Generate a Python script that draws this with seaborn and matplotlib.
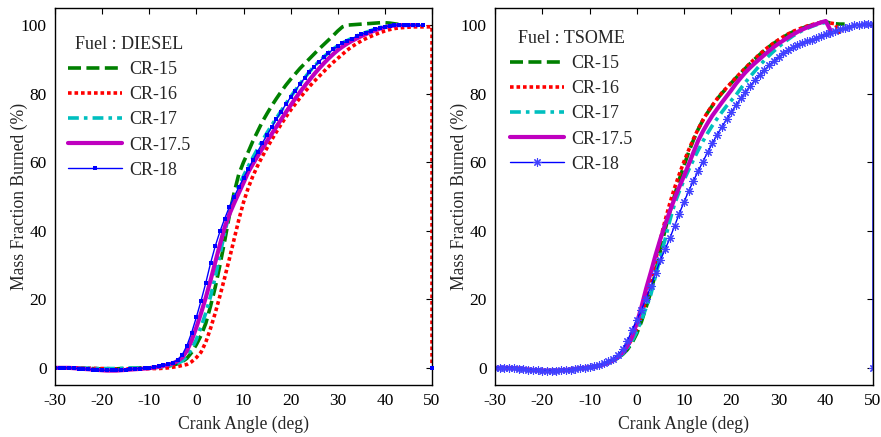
import numpy as np
import pandas as pd
import matplotlib
matplotlib.use("Agg")
import matplotlib.pyplot as plt
import seaborn as sns

nan = np.nan

# Crank angle grid (deg); the last 50 repeats for the end-of-record drop
crank_angle = list(range(-30, 51)) + [50]
series_names = ["CR-15", "CR-16", "CR-17", "CR-17.5", "CR-18"]

# ---------------- DIESEL (mass fraction burned, %) ----------------
diesel_cr15 = ([0, 0, 0, 0, 0, -0.1, -0.1, -0.2, -0.2, -0.3, -0.3, -0.3, -0.3, -0.3, -0.2, -0.2, -0.1, -0.1, 0, 0, 0]
               + [0.1, 0.2, 0.3, 0.5, 0.8, 1.2, 1.8, 2.8, 4.5, 6.8]
               + [9.5, 13.0, 18.0, 23.5, 30.0, 37.0, 44.5, 51.0, 56.5, 60.0]
               + [63.0, 66.2, 69.0, 71.8, 74.2, 76.5, 78.6, 80.6, 82.5, 84.2]
               + [85.8, 87.4, 88.8, 90.2, 91.6, 93.0, 94.3, 95.6, 96.9, 98.3]
               + [99.5, 100.0, 100.1, 100.2, 100.3, 100.4, 100.5, 100.6, 100.7, 100.7]
               + [100.6, 100.4, 100.2, 100.1, 100.0, nan, nan, nan, nan, nan]
               + [nan])
diesel_cr16 = ([0, 0, 0, 0, 0, 0, 0, -0.1, -0.1, -0.2, -0.2, -0.2, -0.3, -0.3, -0.3, -0.3, -0.3, -0.3, -0.3, -0.3, -0.2]
               + [-0.2, -0.2, -0.1, 0.0, 0.2, 0.4, 0.7, 1.0, 1.8, 3.0]
               + [4.6, 7.5, 11.5, 16.0, 21.0, 26.3, 31.8, 37.5, 43.2, 48.3]
               + [52.5, 56.0, 59.0, 61.7, 64.2, 66.6, 68.9, 71.1, 73.2, 75.2]
               + [77.0, 78.8, 80.5, 82.1, 83.6, 85.0, 86.4, 87.8, 89.1, 90.3]
               + [91.5, 92.7, 93.7, 94.6, 95.4, 96.1, 96.7, 97.3, 97.8, 98.3]
               + [98.7, 99.0, 99.2, 99.3, 99.4, 99.5, 99.5, 99.5, 99.5, 99.5]
               + [0])
diesel_cr17 = ([0, 0, 0, 0, 0, -0.1, -0.1, -0.1, -0.2, -0.2, -0.2, -0.2, -0.2, -0.2, -0.2, -0.1, -0.1, -0.1, 0, 0, 0]
               + [0.1, 0.2, 0.4, 0.6, 0.9, 1.3, 2.0, 3.3, 5.5, 8.3]
               + [12.0, 16.0, 20.8, 26.5, 33.0, 39.5, 45.0, 49.5, 53.0, 56.0]
               + [58.8, 61.4, 63.9, 66.3, 68.6, 70.8, 72.9, 75.0, 77.1, 79.1]
               + [81.0, 82.9, 84.7, 86.4, 88.0, 89.4, 90.7, 91.9, 93.0, 94.0]
               + [94.8, 95.5, 96.2, 96.8, 97.4, 97.9, 98.4, 98.9, 99.3, 99.6]
               + [99.8, 100, 100, 100, 100, 100, 100, nan, nan, nan]
               + [nan])
diesel_cr175 = ([0, 0, 0, 0, -0.1, -0.2, -0.3, -0.4, -0.5, -0.6, -0.7, -0.8, -0.8, -0.8, -0.7, -0.6, -0.5, -0.4, -0.3, -0.2, -0.1]
                + [0.1, 0.3, 0.6, 0.9, 1.3, 2.0, 3.0, 5.0, 8.0, 11.8]
                + [16.0, 20.5, 25.5, 30.8, 36.0, 41.0, 44.8, 48.0, 51.0, 54.0]
                + [57.1, 59.5, 61.8, 64.0, 66.2, 68.3, 70.4, 72.5, 74.6, 76.6]
                + [78.6, 80.5, 82.3, 84.0, 85.7, 87.3, 88.8, 90.2, 91.5, 92.7]
                + [93.7, 94.6, 95.4, 96.1, 96.8, 97.4, 98.0, 98.5, 99.0, 99.4]
                + [99.7, 99.9, 100, 100, 100, 100, 100, nan, nan, nan]
                + [nan])
diesel_cr18 = ([0, 0, 0, 0, -0.1, -0.2, -0.3, -0.4, -0.5, -0.6, -0.7, -0.7, -0.7, -0.7, -0.6, -0.5, -0.4, -0.3, -0.2, -0.1, 0.0]
               + [0.2, 0.4, 0.7, 1.0, 1.5, 2.3, 3.8, 6.5, 10.3, 14.8]
               + [19.6, 24.8, 30.5, 35.5, 39.8, 43.5, 47.0, 49.9, 52.7, 55.4]
               + [58.0, 60.6, 63.1, 65.6, 68.0, 70.3, 72.6, 74.8, 76.9, 79.0]
               + [80.9, 82.8, 84.6, 86.3, 87.9, 89.3, 90.6, 91.8, 92.9, 93.9]
               + [94.7, 95.4, 96.1, 96.7, 97.3, 97.8, 98.3, 98.8, 99.2, 99.5]
               + [99.8, 100, 100, 100, 100, 100, 100, 100, nan, nan]
               + [nan])
diesel_cr18_end_angle = [50]
diesel_cr18_end_value = [0]

# ---------------- TSOME (mass fraction burned, %) ----------------
tsome_flat = [0, 0, 0, 0, -0.1, -0.2, -0.3, -0.5, -0.6, -0.7, -0.8, -0.8, -0.8, -0.8, -0.7, -0.6, -0.5, -0.3, -0.1, 0.0, 0.2]
tsome_cr15 = (tsome_flat
              + [0.3, 0.6, 1.0, 1.5, 2.1, 2.9, 3.9, 5.3, 7.3, 10.0]
              + [13.5, 17.8, 22.2, 28.0, 34.3, 40.3, 45.5, 50.3, 55.0, 59.0]
              + [63.0, 66.5, 69.6, 72.3, 74.5, 76.5, 78.4, 80.1, 81.6, 83.1]
              + [84.6, 86.0, 87.4, 88.8, 90.1, 91.4, 92.6, 93.7, 94.7, 95.6]
              + [96.5, 97.3, 98.0, 98.6, 99.1, 99.6, 100.0, 100.4, 100.8, 101.0]
              + [100.6, 100.4, 100.3, 100.3, nan, nan, nan, nan, nan, nan]
              + [nan])
tsome_cr16 = (tsome_flat
              + [0.3, 0.6, 1.0, 1.5, 2.2, 3.1, 4.5, 6.2, 8.4, 11.5]
              + [15.5, 20.0, 25.5, 31.5, 37.5, 43.0, 48.0, 52.5, 56.5, 60.2]
              + [63.6, 66.8, 69.7, 72.3, 74.6, 76.6, 78.5, 80.2, 81.7, 83.2]
              + [84.7, 86.1, 87.5, 88.9, 90.2, 91.5, 92.7, 93.8, 94.8, 95.7]
              + [96.6, 97.4, 98.1, 98.7, 99.2, 99.7, 100.1, 100.5, 100.8, 100.9]
              + [100.6, 100.4, 97.5, nan, nan, nan, nan, nan, nan, nan]
              + [nan])
tsome_cr17 = (tsome_flat
              + [0.3, 0.6, 1.0, 1.4, 2.0, 2.9, 4.0, 5.6, 7.8, 10.6]
              + [14.0, 17.6, 21.5, 27.0, 32.5, 37.5, 43.0, 47.8, 51.5, 54.8]
              + [57.8, 60.7, 63.5, 66.1, 68.5, 70.7, 72.7, 74.6, 76.4, 78.0]
              + [79.6, 81.5, 83.3, 85.0, 86.6, 88.2, 89.7, 91.1, 92.4, 93.6]
              + [94.8, 95.8, 96.8, 97.6, 98.4, 99.0, 99.6, 100.1, 100.5, 100.8]
              + [100.5, nan, nan, nan, nan, nan, nan, nan, nan, nan]
              + [nan])
tsome_cr175 = (tsome_flat
               + [0.3, 0.6, 1.0, 1.5, 2.2, 3.1, 4.4, 6.3, 9.0, 13.0]
               + [17.8, 23.2, 28.0, 33.0, 37.6, 41.8, 45.7, 49.4, 52.8, 56.0]
               + [59.4, 62.9, 66.3, 69.0, 71.4, 73.6, 75.5, 77.4, 79.2, 81.0]
               + [82.9, 84.6, 86.2, 87.6, 88.9, 90.1, 91.3, 92.5, 93.6, 94.6]
               + [95.5, 96.4, 97.2, 98.0, 98.7, 99.3, 99.8, 100.3, 100.8, 101.2]
               + [98.5, nan, nan, nan, nan, nan, nan, nan, nan, nan]
               + [nan])
tsome_cr18 = (tsome_flat
              + [0.4, 0.8, 1.3, 1.9, 2.7, 3.8, 5.4, 7.8, 11.0, 14.0]
              + [17.0, 20.2, 24.0, 27.8, 31.4, 34.6, 37.8, 41.4, 45.0, 48.4]
              + [51.6, 54.6, 57.4, 60.2, 62.9, 65.5, 68.0, 70.3, 72.5, 74.6]
              + [76.6, 78.6, 80.5, 82.3, 83.9, 85.5, 86.9, 88.3, 89.6, 90.7]
              + [91.8, 92.7, 93.5, 94.2, 94.8, 95.3, 95.8, 96.3, 96.8, 97.3]
              + [97.8, 98.3, 98.8, 99.2, 99.6, 99.9, 100.1, 100.2, 100.3, 100.3]
              + [0])

x_ticks = [-30, -20, -10, 0, 10, 20, 30, 40, 50]
y_ticks = [0, 20, 40, 60, 80, 100]

sns.set_theme(style="white")
plt.rcParams["font.family"] = ["Liberation Serif", "DejaVu Serif"]
plt.rcParams["axes.unicode_minus"] = False

fig = plt.figure(figsize=(8.81, 4.37), dpi=100)
W, H = 881.0, 437.0
ax1 = fig.add_axes([55 / W, 1 - 385 / H, 377 / W, 377 / H])
ax2 = fig.add_axes([495 / W, 1 - 385 / H, 378 / W, 377 / H])

styles = {
    "CR-15": dict(color=(0, 0.5, 0), lw=2.6, dashes=(3.6, 1.5)),
    "CR-16": dict(color=(1, 0, 0), lw=2.6, dashes=(1.0, 0.8)),
    "CR-17": dict(color=(0, 0.75, 0.75), lw=2.6, dashes=(3.0, 1.4, 1.0, 1.4)),
    "CR-17.5": dict(color=(0.75, 0, 0.75), lw=3.0, dashes=None),
    "CR-18": dict(color=(0, 0, 1), lw=1.0, dashes=None),
}


def draw(ax, data, marker_kw):
    for name, vals in zip(series_names, data):
        st = styles[name]
        kw = dict(marker_kw) if name == "CR-18" else {}
        sns.lineplot(x=crank_angle, y=vals, ax=ax, color=st["color"], linewidth=st["lw"],
                     estimator=None, sort=False, label=name, legend=False, **kw)
        line = ax.get_lines()[-1]
        if st["dashes"] is not None:
            line.set_dashes(st["dashes"])
            line.set_dash_capstyle("butt")
    ax.set_xlim(-30, 50)
    ax.set_ylim(-5, 105)
    ax.set_xticks(x_ticks)
    ax.set_yticks(y_ticks)
    ax.tick_params(direction="in", top=True, right=True, length=4, width=0.8,
                   labelsize=12.5, colors="black", pad=6)
    for sp in ax.spines.values():
        sp.set_color("black")
        sp.set_linewidth(1.0)
    ax.set_xlabel("Crank Angle (deg)", fontsize=12.7)
    ax.set_ylabel("Mass Fraction Burned (%)", fontsize=12.7)
    ax.xaxis.set_label_coords(0.5, -(416 - 385) / 377)
    ax.yaxis.set_label_coords(-(55 - 28) / 377, 0.5)
    handles = [l for l in ax.get_lines() if l.get_label() in series_names]
    return handles


diesel_data = [diesel_cr15, diesel_cr16, diesel_cr17, diesel_cr175, diesel_cr18]
tsome_data = [tsome_cr15, tsome_cr16, tsome_cr17, tsome_cr175, tsome_cr18]

h1 = draw(ax1, diesel_data,
          dict(marker="s", markersize=2.4, markeredgewidth=0, markeredgecolor=(0, 0, 1)))
sns.scatterplot(x=diesel_cr18_end_angle, y=diesel_cr18_end_value, ax=ax1, color=(0, 0, 1),
                marker="s", s=7, linewidth=0, legend=False, zorder=5, clip_on=False)
h2 = draw(ax2, tsome_data,
          dict(marker=(8, 2, 0), markersize=6, markeredgewidth=0.8,
               markeredgecolor=(0.25, 0.25, 1.0)))

leg_kw = dict(loc="upper left", frameon=False, fontsize=13, title_fontsize=13,
              handlelength=3.0, handletextpad=0.4, labelspacing=0.45,
              borderaxespad=0, borderpad=0)
ax1.legend(h1, series_names, title="Fuel : DIESEL",
           bbox_to_anchor=((68 - 55) / 377, (385 - 36) / 377), **leg_kw)
ax2.legend(h2, series_names, title="Fuel : TSOME",
           bbox_to_anchor=((510 - 495) / 378, (385 - 30) / 377), **leg_kw)

fig.savefig("out.png", dpi=100)
